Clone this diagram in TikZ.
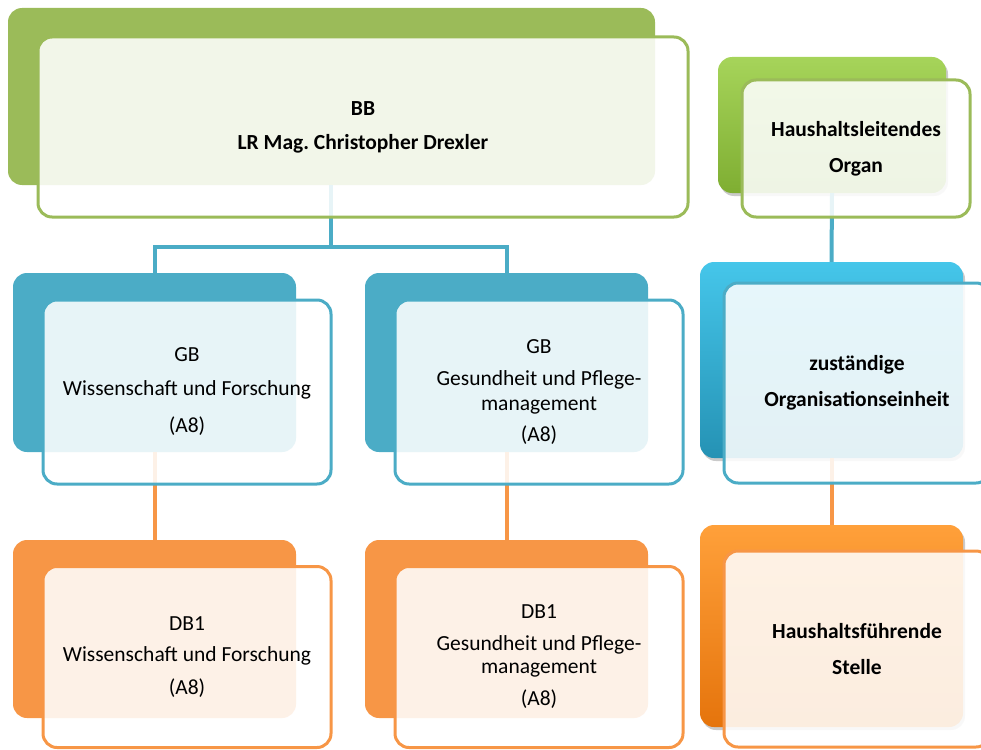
\documentclass[tikz,border=0pt]{standalone}
\usepackage{fontspec}
\setmainfont{Carlito}
\usetikzlibrary{shadows}
\definecolor{ggreen}{HTML}{9BBB59}
\definecolor{gblue}{HTML}{4BACC6}
\definecolor{gorange}{HTML}{F79646}
\definecolor{lgreenT}{HTML}{A6D45A}
\definecolor{lgreenB}{HTML}{7FAE32}
\definecolor{lblueT}{HTML}{45C6EA}
\definecolor{lblueB}{HTML}{2592B4}
\definecolor{lorangeT}{HTML}{FFA03A}
\definecolor{lorangeB}{HTML}{E5740C}
\tikzset{
  backbox/.style={rounded corners=14pt, inner sep=0pt, draw=none},
  frontbox/.style={rounded corners=14pt, inner sep=0pt, fill=white, fill opacity=0.87, text opacity=1,
    line width=3pt, align=center, font=\fontsize{21.5}{25}\selectfont},
  conn/.style={line width=4pt},
  lshadow/.style={drop shadow={shadow xshift=2pt, shadow yshift=-3pt, opacity=0.35, fill=black!60}},
}
\begin{document}
\begin{tikzpicture}[x=1pt,y=-1pt]
\useasboundingbox (0,0) rectangle (981,749);
% back boxes
\node[backbox, fill=ggreen, minimum width=647pt, minimum height=177pt] (bbback) at (331.5,96.5) {};
\node[backbox, fill=gblue, minimum width=283pt, minimum height=179pt] (gb1back) at (154.5,362.5) {};
\node[backbox, fill=gblue, minimum width=283pt, minimum height=179pt] (gb2back) at (506.5,362.5) {};
\node[backbox, fill=gorange, minimum width=283pt, minimum height=178pt] (db1back) at (154.5,629) {};
\node[backbox, fill=gorange, minimum width=283pt, minimum height=178pt] (db2back) at (506.5,629) {};
\node[backbox, lshadow, top color=lgreenT, bottom color=lgreenB, minimum width=228pt, minimum height=136pt] (lg1back) at (832,125) {};
\node[backbox, lshadow, top color=lblueT, bottom color=lblueB, minimum width=263pt, minimum height=196pt] (lg2back) at (831.5,360) {};
\node[backbox, lshadow, top color=lorangeT, bottom color=lorangeB, minimum width=263pt, minimum height=202pt] (lg3back) at (831.5,626) {};
% connectors
\coordinate (j) at (331,247);
\draw[conn, gblue] (j |- bbback.south) -- (j);
\draw[conn, gblue] (gb1back.north) |- (j) -| (gb2back.north);
\draw[conn, gorange] (gb1back.south) -- (db1back.north);
\draw[conn, gorange] (gb2back.south) -- (db2back.north);
\draw[conn, gblue] (lg1back.south) -- (lg2back.north);
\draw[conn, gorange] (lg2back.south) -- (lg3back.north);
% front boxes
\node[frontbox, draw=ggreen, minimum width=650pt, minimum height=180pt] (bb) at (363,127)
  {\bfseries BB\\[9pt]\bfseries LR Mag.\ Christopher Drexler};
\node[frontbox, draw=gblue, minimum width=288pt, minimum height=184pt] (gb1) at (187,392)
  {GB\\[9pt]Wissenschaft und Forschung\\[12pt](A8)};
\node[frontbox, draw=gblue, minimum width=288pt, minimum height=184pt] (gb2) at (539,392)
  {GB\\[7pt]Gesundheit und Pflege-\\management\\[6pt](A8)};
\node[frontbox, draw=gorange, minimum width=288pt, minimum height=181pt] (db1) at (187,657)
  {DB1\\[6pt]Wissenschaft und Forschung\\[8pt](A8)};
\node[frontbox, draw=gorange, minimum width=288pt, minimum height=181pt] (db2) at (539,657)
  {DB1\\[7pt]Gesundheit und Pflege-\\[-2pt]management\\[7pt](A8)};
\node[frontbox, draw=ggreen, minimum width=228pt, minimum height=137pt] (lg1) at (856,148.5)
  {\bfseries Haushaltsleitendes\\[11pt]\bfseries Organ};
\node[frontbox, draw=gblue, minimum width=266pt, minimum height=200pt] (lg2) at (857,383)
  {\bfseries zuständige\\[11pt]\bfseries Organisationseinheit};
\node[frontbox, draw=gorange, minimum width=266pt, minimum height=196pt] (lg3) at (857,649)
  {\bfseries Haushaltsführende\\[11pt]\bfseries Stelle};
\end{tikzpicture}
\end{document}
